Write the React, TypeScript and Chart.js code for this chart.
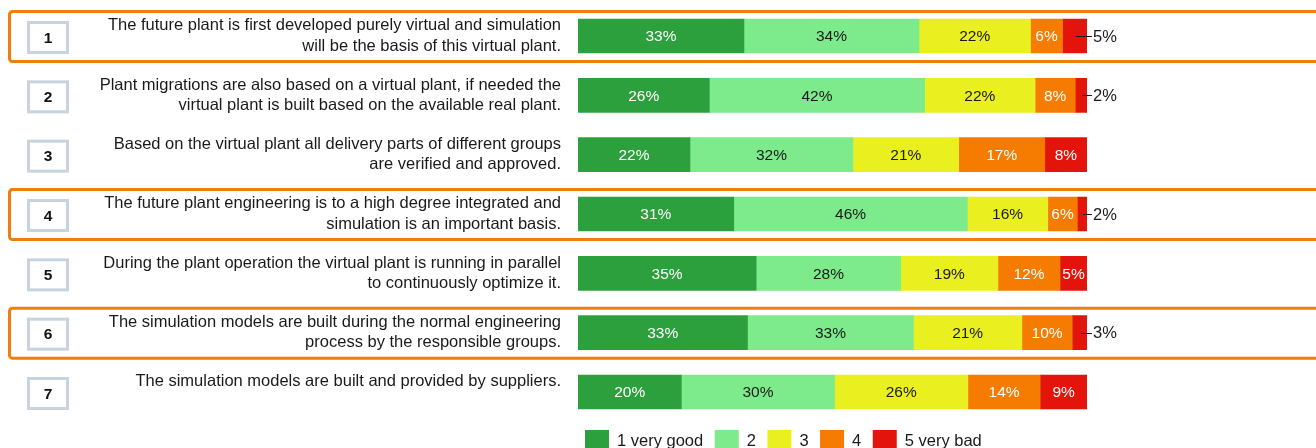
import React, { useEffect, useRef } from 'react';
import { Chart, registerables } from 'chart.js';

Chart.register(...registerables);

// ---------- data ----------
const questionNumbers = ['1', '2', '3', '4', '5', '6', '7'];
const questions: string[][] = [
  ['The future plant is first developed purely virtual and simulation', 'will be the basis of this virtual plant.'],
  ['Plant migrations are also based on a virtual plant, if needed the', 'virtual plant is built based on the available real plant.'],
  ['Based on the virtual plant all delivery parts of different groups', 'are verified and approved.'],
  ['The future plant engineering is to a high degree integrated and', 'simulation is an important basis.'],
  ['During the plant operation the virtual plant is running in parallel', 'to continuously optimize it.'],
  ['The simulation models are built during the normal engineering', 'process by the responsible groups.'],
  ['The simulation models are built and provided by suppliers.', ''],
];
const highlighted = [true, false, false, true, false, true, false];

const ratingNames = ['1 very good', '2', '3', '4', '5 very bad'];
const rating1 = [32.6, 25.8, 22.0, 30.6, 35.0, 33.3, 20.3];
const rating2 = [34.4, 42.3, 32.0, 45.9, 28.4, 32.6, 30.1];
const rating3 = [21.9, 21.7, 20.8, 15.8, 19.1, 21.3, 26.2];
const rating4 = [6.3, 7.9, 16.9, 5.8, 12.2, 9.9, 14.2];
const rating5 = [4.8, 2.3, 8.3, 1.9, 5.3, 2.9, 9.2];

// ---------- styles ----------
const FONT = '"Liberation Sans", Arial, sans-serif';
const colors = ['#2ca03c', '#7dea8b', '#eaf01f', '#f57c00', '#e3140b'];
const labelColors = ['#ffffff', '#1a1a1a', '#1a1a1a', '#ffffff', '#ffffff'];
const OUTSIDE_THRESHOLD = 5;

const decorPlugin = {
  id: 'decor',
  afterDraw(chart: any) {
    const ctx = chart.ctx;
    const yScale = chart.scales.y;
    ctx.save();
    questionNumbers.forEach((num, i) => {
      const cy = yScale.getPixelForValue(i);
      // orange highlight frame
      if (highlighted[i]) {
        ctx.strokeStyle = '#f07d0c';
        ctx.lineWidth = 3;
        ctx.beginPath();
        const x0 = 9.5, y0 = cy - 24.5, w = 1340, h = 50;
        const r = 3;
        ctx.moveTo(x0 + r, y0);
        ctx.lineTo(x0 + w, y0);
        ctx.lineTo(x0 + w, y0 + h);
        ctx.lineTo(x0 + r, y0 + h);
        ctx.arcTo(x0, y0 + h, x0, y0 + h - r, r);
        ctx.lineTo(x0, y0 + r);
        ctx.arcTo(x0, y0, x0 + r, y0, r);
        ctx.stroke();
      }
      // number box
      const bcy = cy + 1.5;
      ctx.fillStyle = '#ffffff';
      ctx.fillRect(28.5, bcy - 15, 39, 30);
      ctx.strokeStyle = '#c7d4df';
      ctx.lineWidth = 3;
      ctx.strokeRect(28.5, bcy - 15, 39, 30);
      ctx.fillStyle = '#111111';
      ctx.font = `bold 15.5px ${FONT}`;
      ctx.textAlign = 'center';
      ctx.textBaseline = 'middle';
      ctx.fillText(num, 48, bcy + 1);
    });

    // legend
    ctx.font = `16.5px ${FONT}`;
    ctx.textAlign = 'left';
    ctx.textBaseline = 'alphabetic';
    let x = 585;
    ratingNames.forEach((name, i) => {
      ctx.fillStyle = colors[i];
      ctx.fillRect(x, 430, 24, 22);
      ctx.fillStyle = '#1a1a1a';
      ctx.fillText(name, x + 32, 445.5);
      x += 32 + ctx.measureText(name).width + 11.5;
    });
    ctx.restore();
  },
};

const valueLabelPlugin = {
  id: 'valueLabels',
  afterDatasetsDraw(chart: any) {
    const ctx = chart.ctx;
    const right = chart.chartArea.right;
    ctx.save();
    ctx.textBaseline = 'middle';
    chart.data.datasets.forEach((ds: any, di: number) => {
      const meta = chart.getDatasetMeta(di);
      meta.data.forEach((el: any, j: number) => {
        const v = ds.data[j];
        const text = Math.round(v) + '%';
        const cx = (el.x + el.base) / 2;
        const cy = el.y;
        if (v >= OUTSIDE_THRESHOLD) {
          ctx.font = `15.5px ${FONT}`;
          ctx.fillStyle = labelColors[di];
          ctx.textAlign = 'center';
          ctx.fillText(text, cx, cy + 1);
        } else {
          ctx.strokeStyle = '#1a1a1a';
          ctx.lineWidth = 1;
          ctx.beginPath();
          ctx.moveTo(cx + 1, Math.round(cy) + 0.5);
          ctx.lineTo(right + 5, Math.round(cy) + 0.5);
          ctx.stroke();
          ctx.font = `16.5px ${FONT}`;
          ctx.fillStyle = '#1a1a1a';
          ctx.textAlign = 'left';
          ctx.fillText(text, right + 6, cy + 1);
        }
      });
    });
    ctx.restore();
  },
};

export default function App() {
  const canvasRef = useRef<HTMLCanvasElement | null>(null);

  useEffect(() => {
    if (!canvasRef.current) return;
    Chart.defaults.font.family = FONT;
    const series = [rating1, rating2, rating3, rating4, rating5];
    const chart = new Chart(canvasRef.current, {
      type: 'bar',
      data: {
        labels: questions as any,
        datasets: series.map((d, i) => ({
          label: ratingNames[i],
          data: d,
          backgroundColor: colors[i],
          borderWidth: 0,
          barThickness: 34,
        })),
      },
      options: {
        indexAxis: 'y',
        responsive: false,
        animation: false,
        events: [],
        layout: { padding: { left: 0, right: 229, top: 6.33, bottom: 26.33 } },
        plugins: {
          legend: { display: false },
          tooltip: { enabled: false },
          title: { display: false },
        },
        scales: {
          x: { stacked: true, min: 0, max: 100, display: false },
          y: {
            stacked: true,
            border: { display: false },
            grid: { display: false, drawTicks: false },
            ticks: {
              padding: 17,
              color: '#1a1a1a',
              autoSkip: false,
              font: { size: 16.5, lineHeight: 1.22, family: FONT },
            },
            afterFit: (scale: any) => {
              scale.width = 578;
              scale.paddingTop = 0;
              scale.paddingBottom = 0;
            },
          },
        },
      },
      plugins: [valueLabelPlugin, decorPlugin],
    });
    return () => chart.destroy();
  }, []);

  return (
    <div style={{ position: 'fixed', left: 0, top: 0, width: 1316, height: 448, background: '#ffffff' }}>
      <canvas ref={canvasRef} width={1316} height={448} style={{ width: 1316, height: 448 }} />
    </div>
  );
}
